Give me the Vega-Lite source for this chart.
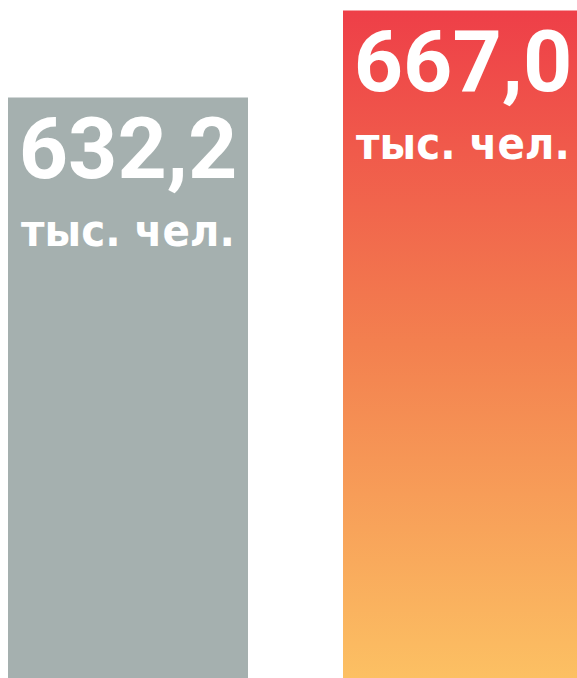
{
  "$schema": "https://vega.github.io/schema/vega-lite/v6.json",
  "width": 577,
  "height": 678,
  "padding": 0,
  "autosize": {"type": "none"},
  "background": "white",
  "config": {"view": {"stroke": null}},
  "data": {"values": [
    {"group": "A", "value": 632.2, "label": "632,2", "unit": "тыс. чел."},
    {"group": "B", "value": 667.0, "label": "667,0", "unit": "тыс. чел."}
  ]},
  "encoding": {
    "x": {"field": "group", "type": "nominal", "axis": null,
      "scale": {"range": [0, 591], "paddingInner": 0.2836, "paddingOuter": 0.0239}},
    "y": {"field": "value", "type": "quantitative", "axis": null,
      "scale": {"domain": [400, 671.2], "zero": false, "nice": false}}
  },
  "layer": [
    {
      "mark": {"type": "bar"},
      "encoding": {
        "y2": {"datum": 400},
        "color": {
          "condition": {"test": "datum.group === 'B'", "value": {
            "gradient": "linear", "x1": 0, "y1": 0, "x2": 0, "y2": 1,
            "stops": [
              {"offset": 0, "color": "#ee3f48"},
              {"offset": 0.5, "color": "#f3804f"},
              {"offset": 1, "color": "#fcc063"}
            ]}},
          "value": "#a5b0af"
        }
      }
    },
    {
      "mark": {"type": "text", "font": "Roboto", "fontWeight": "bold", "fontSize": 86, "color": "white", "baseline": "alphabetic", "align": "center", "dy": 80},
      "encoding": {"text": {"field": "label"}}
    },
    {
      "mark": {"type": "text", "font": "DejaVu Sans Condensed", "fontWeight": "bold", "fontSize": 45, "color": "white", "baseline": "alphabetic", "align": "center", "dy": 148},
      "encoding": {"text": {"field": "unit"}}
    }
  ]
}
